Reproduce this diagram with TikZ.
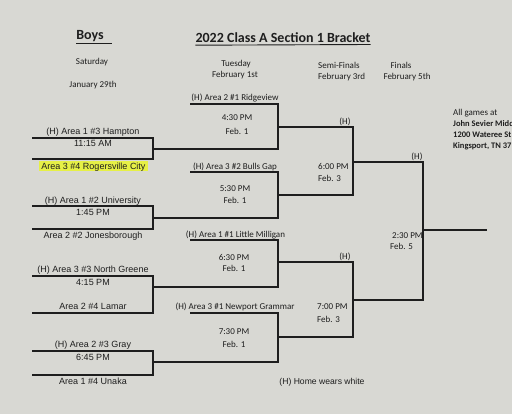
\documentclass[tikz,border=0pt]{standalone}
\usepackage{fontspec}
\newfontfamily\arialfont{Liberation Sans}
\newfontfamily\calfont{Carlito}
\definecolor{paper}{RGB}{216,216,211}
\definecolor{ink}{RGB}{30,30,30}
\definecolor{marker}{RGB}{230,240,70}

\begin{document}
\begin{tikzpicture}[x=1pt, y=-1pt,
    team/.style={font=\arialfont\fontsize{9}{10}\selectfont, text=ink,
                 inner sep=0pt, text height=6.4pt, text depth=0pt},
    info/.style={font=\calfont\fontsize{9}{10}\selectfont, text=ink,
                 inner sep=0pt, text height=5.8pt, text depth=0pt},
    head/.style={font=\calfont\bfseries\fontsize{14}{16}\selectfont, text=ink,
                 inner sep=0pt, text height=9pt, text depth=0pt},
    brk/.style={draw=ink, line width=1.4pt, line cap=rect},
    uline/.style={draw=ink, line width=0.9pt},
  ]
    \fill[paper] (0,0) rectangle (512,414);
    \useasboundingbox (0,0) rectangle (512,414);

    % Titles
    \node[head] (boys) at (90,35.5) {Boys};
    \node[head] (title) at (283,38) {2022 Class A Section 1 Bracket};
    \draw[uline] (76,43) -- (112,43);
    \draw[uline] (title.south west) ++(0,2.5) -- (title.south east |- 0,44.5);

    % Round headers
    \node[info] (sat) at (92,62) {Saturday};
    \node[info] (jan) at (93,85) {January 29th};
    \node[info] (tue) at (236,64) {Tuesday};
    \node[info] (feb1) at (235,75) {February 1st};
    \node[info, anchor=west] (semi) at (318,66) {Semi-Finals};
    \node[info, anchor=west] (feb3) at (318,77) {February 3rd};
    \node[info] (fin) at (401,66) {Finals};
    \node[info] (feb5) at (407,77) {February 5th};

    % Venue
    \node[info, anchor=west] (venue) at (453,113) {All games at};
    \node[info, anchor=west, font=\calfont\bfseries\fontsize{8.5}{10}\selectfont]
      (school) at (453,124) {John Sevier Middle};
    \node[info, anchor=west, font=\calfont\bfseries\fontsize{8.5}{10}\selectfont]
      (street) at (453,135) {1200 Wateree St};
    \node[info, anchor=west, font=\calfont\bfseries\fontsize{8.5}{10}\selectfont]
      (city) at (453,146) {Kingsport, TN 37};

    % Bracket lines
    \foreach \t/\m/\b in {138/149/159, 206/218/229, 276/287/313, 351/362/375}
      \draw[brk] (33,\t) -- (153,\t) -- (153,\b) -- (33,\b)
                 (153,\m) -- (278,\m);
    \foreach \t/\m/\b in {104/127/149, 172/195/218, 240/262/287, 313/337/362}
      \draw[brk] (191,\t) -- (278,\t) -- (278,\b)
                 (278,\m) -- (353,\m);
    \foreach \t/\m/\b in {127/162/195, 262/300/337}
      \draw[brk] (353,\t) -- (353,\b) (353,\m) -- (423,\m);
    \draw[brk] (423,162) -- (423,300) (423,230) -- (486,230);

    % First round (Saturday)
    \node[team] (hampton) at (93,131) {(H) Area 1 \#3 Hampton};
    \node[team] (g1time) at (93,143.5) {11:15 AM};
    \node[team, fill=marker, inner xsep=2pt, inner ysep=2pt]
      (rogers) at (93.5,166) {Area 3 \#4 Rogersville City};
    \node[team] (univ) at (93,200) {(H) Area 1 \#2 University};
    \node[team] (g2time) at (93,212) {1:45 PM};
    \node[team] (jonesb) at (93,235) {Area 2 \#2 Jonesborough};
    \node[team] (ngreene) at (93,269) {(H) Area 3 \#3 North Greene};
    \node[team] (g3time) at (93,282) {4:15 PM};
    \node[team] (lamar) at (93,306) {Area 2 \#4 Lamar};
    \node[team] (gray) at (93,344) {(H) Area 2 \#3 Gray};
    \node[team] (g4time) at (93,357) {6:45 PM};
    \node[team] (unaka) at (93,381) {Area 1 \#4 Unaka};

    % Second round (Tuesday)
    \node[info] (ridge) at (235,98) {(H) Area 2 \#1 Ridgeview};
    \node[info] (r2atime) at (237,118) {4:30 PM};
    \node[info] (r2aday) at (237,132) {Feb. 1};
    \node[info] (bulls) at (235,167) {(H) Area 3 \#2 Bulls Gap};
    \node[info] (r2btime) at (235,189) {5:30 PM};
    \node[info] (r2bday) at (235,201) {Feb. 1};
    \node[info] (milligan) at (235.5,235) {(H) Area 1 \#1 Little Milligan};
    \node[info] (r2ctime) at (234,258) {6:30 PM};
    \node[info] (r2cday) at (234,269) {Feb. 1};
    \node[info] (newport) at (235,307) {(H) Area 3 \#1 Newport Grammar};
    \node[info] (r2dtime) at (234,332) {7:30 PM};
    \node[info] (r2dday) at (234,345) {Feb. 1};

    % Semi-finals and final
    \node[info] (s1home) at (345,122) {(H)};
    \node[info, anchor=west] (s1time) at (318,167) {6:00 PM};
    \node[info, anchor=west] (s1day) at (318,179) {Feb. 3};
    \node[info] (s2home) at (345,257) {(H)};
    \node[info, anchor=west] (s2time) at (317,307) {7:00 PM};
    \node[info, anchor=west] (s2day) at (317,320) {Feb. 3};
    \node[info] (fhome) at (417,157) {(H)};
    \node[info, anchor=west] (ftime) at (392,236) {2:30 PM};
    \node[info, anchor=west] (fday) at (390,247) {Feb. 5};

    \node[team, font=\arialfont\fontsize{8.6}{10}\selectfont]
      (note) at (322,381) {(H) Home wears white};
  \end{tikzpicture}
\end{document}
